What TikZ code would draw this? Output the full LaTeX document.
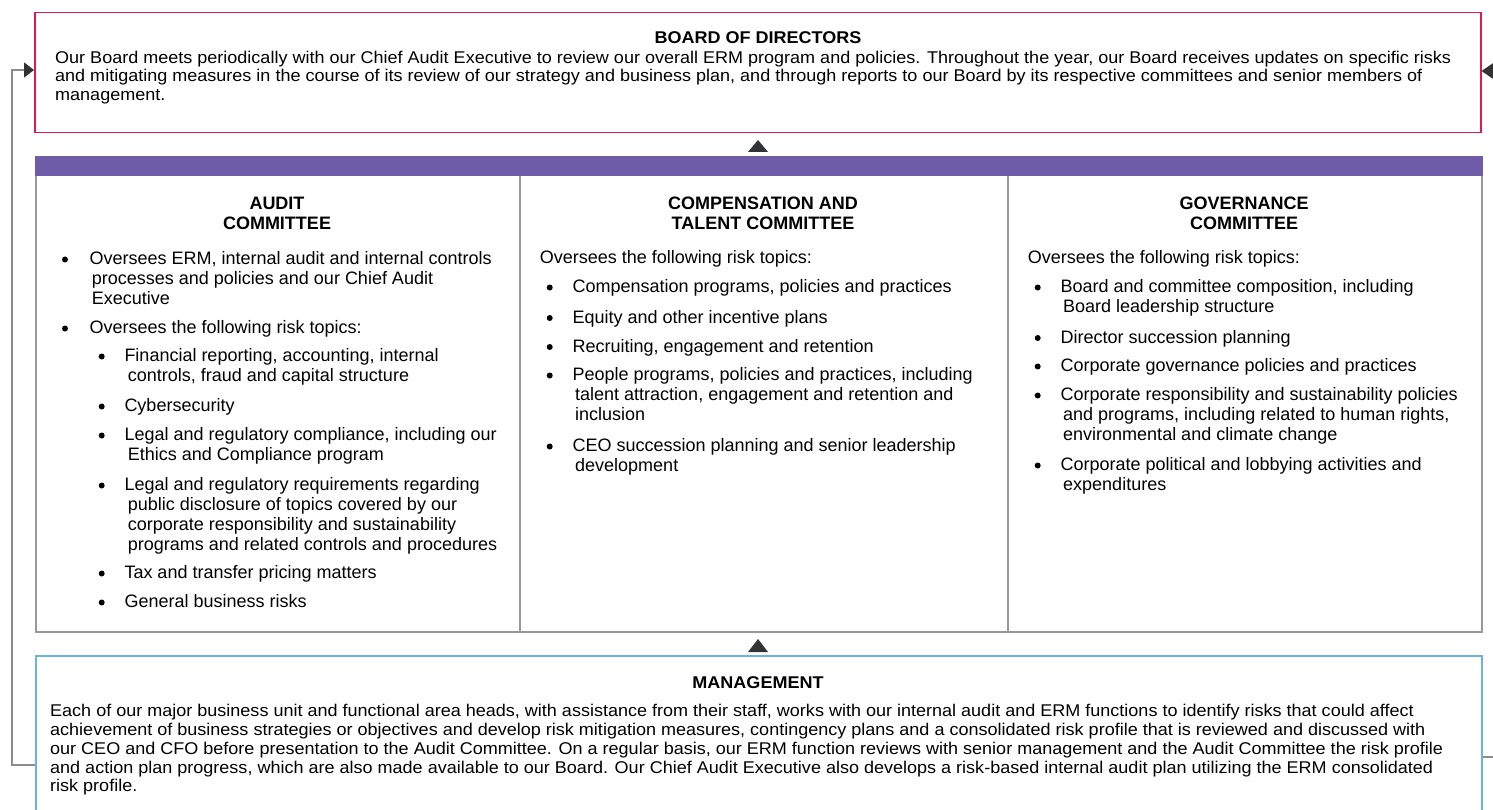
\documentclass[tikz,border=0pt]{standalone}
\usepackage{fontspec}
\setmainfont{Liberation Sans}
\newfontfamily\widef{Liberation Sans}[FakeStretch=1.06]
\usetikzlibrary{arrows.meta}
\definecolor{bred}{HTML}{E2184F}
\definecolor{bpurple}{HTML}{6E5CA8}
\definecolor{bblue}{HTML}{6BB3E3}
\definecolor{cgray}{HTML}{999999}
\definecolor{lgray}{HTML}{8C8C8C}
\definecolor{tdark}{HTML}{333333}
\newcommand\bodyf{\fontsize{18}{20}\selectfont}
\newcommand\boardf{\widef\fontsize{17}{18.5}\selectfont}
\newcommand\mgmtf{\widef\fontsize{17}{18.8}\selectfont}
\begin{document}
\begin{tikzpicture}[x=1pt,y=-1pt,
  rect/.style={anchor=north west, inner sep=0pt, line width=1.5pt},
  conn/.style={draw=lgray, line width=1.5pt},
  bul/.style={circle, fill=black, inner sep=0pt, minimum size=6pt},
  itm/.style={anchor=north west, inner sep=0pt, align=left, font=\bodyf},
  ttl/.style={anchor=north, inner sep=0pt, align=center, font=\bodyf\bfseries},
  ntitle/.style={anchor=base, inner sep=0pt, font=\widef\fontsize{17}{18}\selectfont\bfseries},
  tri/.style={fill=tdark}]
\useasboundingbox (0,0) rectangle (1493,810);
\fill[white] (0,0) rectangle (1493,810);

% boxes
\node[rect, draw=bred, minimum width=1446pt, minimum height=120pt] (board) at (34,12) {};
\node[rect, draw=cgray, minimum width=484pt, minimum height=456pt] (audit) at (35,175) {};
\node[rect, draw=cgray, minimum width=488pt, minimum height=456pt] (comp) at (519,175) {};
\node[rect, draw=cgray, minimum width=474pt, minimum height=456pt] (gov) at (1007,175) {};
\node[rect, fill=bpurple, minimum width=1447.5pt, minimum height=20pt] (bar) at (34.25,155) {};
\node[rect, draw=bblue, minimum width=1446pt, minimum height=200pt] (mgmt) at (35,655) {};

% connectors
\coordinate (lb) at (12,765);
\coordinate (lt) at (12,70);
\draw[conn, -{Triangle[length=10pt,width=15pt,color=tdark]}] (mgmt.west |- lb) -- (lb) -- (lt) -- (board.west |- lt);
\coordinate (rt) at (1493,71);
\draw[conn, -{Triangle[length=12pt,width=16pt,color=tdark]}] (rt) -- (board.east |- rt);
\coordinate (rb) at (1493,757);
\draw[conn] (mgmt.east |- rb) -- (rb);

% small triangles
\fill[tri] (748,152) -- (768,152) -- (758,140) -- cycle;
\fill[tri] (748,652) -- (768,652) -- (758,639) -- cycle;

% board text
\node[ntitle] (boardt) at (758,44) {BOARD OF DIRECTORS};
\node[anchor=north west, inner sep=0pt, align=left, font=\boardf] (boardx) at (55,50) {\rule{0pt}{13pt}Our Board meets periodically with our Chief Audit Executive to review our overall ERM program and policies. Throughout the year, our Board receives updates on specific risks\\and mitigating measures in the course of its review of our strategy and business plan, and through reports to our Board by its respective committees and senior members of\\management.};

% management text
\node[ntitle] (mgmtt) at (758,688) {MANAGEMENT};
\node[anchor=north west, inner sep=0pt, align=left, font=\mgmtf] (mgmtx) at (50,703.5) {\rule{0pt}{13pt}Each of our major business unit and functional area heads, with assistance from their staff, works with our internal audit and ERM functions to identify risks that could affect\\achievement of business strategies or objectives and develop risk mitigation measures, contingency plans and a consolidated risk profile that is reviewed and discussed with\\our CEO and CFO before presentation to the Audit Committee. On a regular basis, our ERM function reviews with senior management and the Audit Committee the risk profile\\and action plan progress, which are also made available to our Board. Our Chief Audit Executive also develops a risk-based internal audit plan utilizing the ERM consolidated\\risk profile.};

% audit column
\node[ttl] (auditt) at (277,196.5) {\rule{0pt}{13pt}AUDIT\\COMMITTEE};
\node[bul] (a1b) at (65,259.5) {};
\node[itm] (a1) at (89.3,250.5) {\rule{0pt}{14pt}Oversees ERM, internal audit and internal controls\\\hspace*{2.4pt}processes and policies and our Chief Audit\\\hspace*{2.4pt}Executive};
\node[bul] (a2b) at (65,328.5) {};
\node[itm] (a2) at (89.3,319.5) {\rule{0pt}{14pt}Oversees the following risk topics:};
\node[bul] (s1b) at (101.7,356.5) {};
\node[itm] (s1) at (124.3,347.5) {\rule{0pt}{14pt}Financial reporting, accounting, internal\\\hspace*{3.4pt}controls, fraud and capital structure};
\node[bul] (s2b) at (101.7,406.5) {};
\node[itm] (s2) at (124.3,397.5) {\rule{0pt}{14pt}Cybersecurity};
\node[bul] (s3b) at (101.7,435.5) {};
\node[itm] (s3) at (124.3,426.5) {\rule{0pt}{14pt}Legal and regulatory compliance, including our\\\hspace*{3.4pt}Ethics and Compliance program};
\node[bul] (s4b) at (101.7,485.5) {};
\node[itm] (s4) at (124.3,476.5) {\rule{0pt}{14pt}Legal and regulatory requirements regarding\\\hspace*{3.4pt}public disclosure of topics covered by our\\\hspace*{3.4pt}corporate responsibility and sustainability\\\hspace*{3.4pt}programs and related controls and procedures};
\node[bul] (s5b) at (101.7,573.5) {};
\node[itm] (s5) at (124.3,564.5) {\rule{0pt}{14pt}Tax and transfer pricing matters};
\node[bul] (s6b) at (101.7,602.5) {};
\node[itm] (s6) at (124.3,593.5) {\rule{0pt}{14pt}General business risks};

% compensation column
\node[ttl] (compt) at (763,196.5) {\rule{0pt}{13pt}COMPENSATION AND\\TALENT COMMITTEE};
\node[itm] (ci) at (539.7,249.5) {\rule{0pt}{14pt}Oversees the following risk topics:};
\node[bul] (c1b) at (549.7,287.5) {};
\node[itm] (c1) at (572.3,278.5) {\rule{0pt}{14pt}Compensation programs, policies and practices};
\node[bul] (c2b) at (549.7,318) {};
\node[itm] (c2) at (572.3,309.2) {\rule{0pt}{14pt}Equity and other incentive plans};
\node[bul] (c3b) at (549.7,347) {};
\node[itm] (c3) at (572.3,338.2) {\rule{0pt}{14pt}Recruiting, engagement and retention};
\node[bul] (c4b) at (549.7,375.5) {};
\node[itm] (c4) at (572.3,366.5) {\rule{0pt}{14pt}People programs, policies and practices, including\\\hspace*{2.7pt}talent attraction, engagement and retention and\\\hspace*{2.7pt}inclusion};
\node[bul] (c5b) at (549.7,446.5) {};
\node[itm] (c5) at (572.3,437.5) {\rule{0pt}{14pt}CEO succession planning and senior leadership\\\hspace*{2.7pt}development};

% governance column
\node[ttl] (govt) at (1244,196.5) {\rule{0pt}{13pt}GOVERNANCE\\COMMITTEE};
\node[itm] (gi) at (1027.7,249.5) {\rule{0pt}{14pt}Oversees the following risk topics:};
\node[bul] (g1b) at (1037.7,287.5) {};
\node[itm] (g1) at (1060.3,278.5) {\rule{0pt}{14pt}Board and committee composition, including\\\hspace*{2.7pt}Board leadership structure};
\node[bul] (g2b) at (1037.7,338) {};
\node[itm] (g2) at (1060.3,329.2) {\rule{0pt}{14pt}Director succession planning};
\node[bul] (g3b) at (1037.7,366.5) {};
\node[itm] (g3) at (1060.3,357.5) {\rule{0pt}{14pt}Corporate governance policies and practices};
\node[bul] (g4b) at (1037.7,395.5) {};
\node[itm] (g4) at (1060.3,386.5) {\rule{0pt}{14pt}Corporate responsibility and sustainability policies\\\hspace*{2.7pt}and programs, including related to human rights,\\\hspace*{2.7pt}environmental and climate change};
\node[bul] (g5b) at (1037.7,465.5) {};
\node[itm] (g5) at (1060.3,456.5) {\rule{0pt}{14pt}Corporate political and lobbying activities and\\\hspace*{2.7pt}expenditures};
\end{tikzpicture}
\end{document}
